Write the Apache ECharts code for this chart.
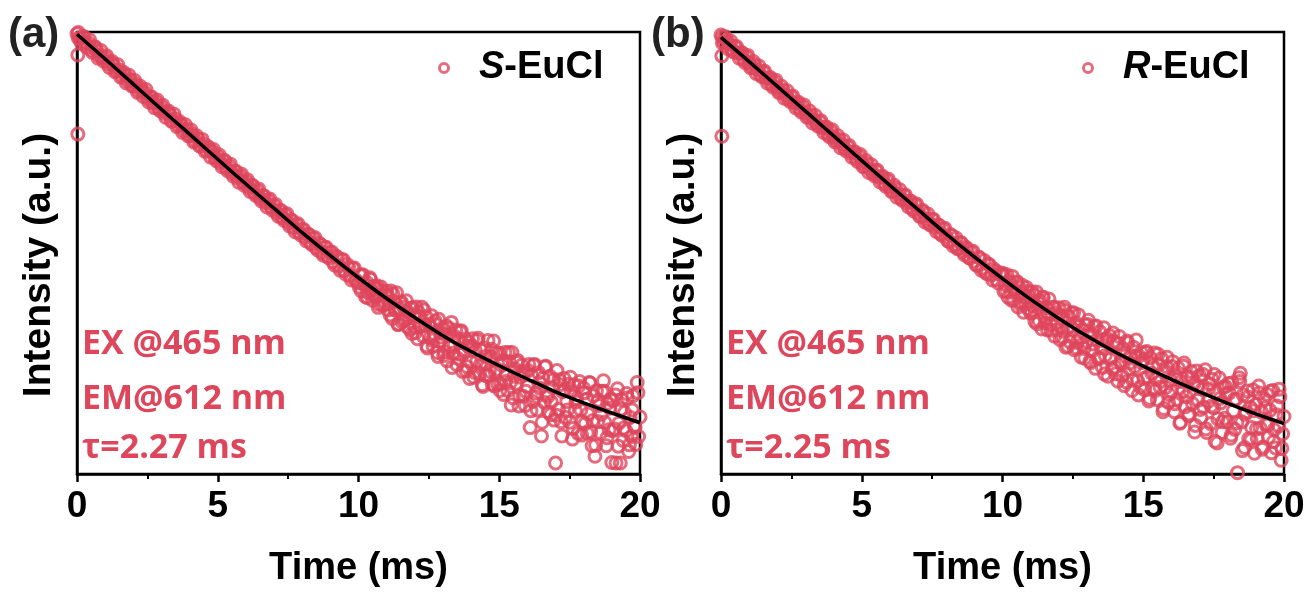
<!DOCTYPE html>
<html>
<head>
<meta charset="utf-8">
<script src="https://cdn.jsdelivr.net/npm/echarts@6/dist/echarts.min.js"></script>
<style>
html,body{margin:0;padding:0;background:#fff;}
#chart{width:1309px;height:594px;}
</style>
</head>
<body>
<div id="chart"></div>
<script>
// ---- Data (y in arbitrary units, 0 = bottom of plot, 100 = top) ----
const seriesNames = ['S-EuCl', 'R-EuCl'];
const panelLabels = ['(a)', '(b)'];
const annotA = ['EX @465 nm', 'EM@612 nm', 'τ=2.27 ms'];
const annotB = ['EX @465 nm', 'EM@612 nm', 'τ=2.25 ms'];
const xTicks = [0, 5, 10, 15, 20];

// shared sampling times (ms)
const times = [
0,0.1,0.2,0.3,0.4,0.5,0.6,0.7,0.8,0.9,
1,1.1,1.2,1.3,1.4,1.5,1.6,1.7,1.8,1.9,
2,2.1,2.2,2.3,2.4,2.5,2.6,2.7,2.8,2.9,
3,3.1,3.2,3.3,3.4,3.5,3.6,3.7,3.8,3.9,
4,4.1,4.2,4.3,4.4,4.5,4.6,4.7,4.8,4.9,
5,5.1,5.2,5.3,5.4,5.5,5.6,5.7,5.8,5.9,
6,6.1,6.2,6.3,6.4,6.5,6.6,6.7,6.8,6.9,
7,7.1,7.2,7.3,7.4,7.5,7.6,7.7,7.8,7.9,
8,8.1,8.2,8.3,8.4,8.5,8.6,8.7,8.8,8.9,
9,9.1,9.2,9.3,9.4,9.5,9.6,9.7,9.8,9.9,
10,10.05,10.1,10.15,10.2,10.25,10.3,10.35,10.4,10.45,10.5,10.55,10.6,10.65,10.7,10.75,10.8,10.85,10.9,10.95,
11,11.05,11.1,11.15,11.2,11.25,11.3,11.35,11.4,11.45,11.5,11.55,11.6,11.65,11.7,11.75,11.8,11.85,11.9,11.95,
12,12.05,12.1,12.15,12.2,12.25,12.3,12.35,12.4,12.45,12.5,12.55,12.6,12.65,12.7,12.75,12.8,12.85,12.9,12.95,
13,13.05,13.1,13.15,13.2,13.25,13.3,13.35,13.4,13.45,13.5,13.55,13.6,13.65,13.7,13.75,13.8,13.85,13.9,13.95,
14,14.05,14.1,14.15,14.2,14.25,14.3,14.35,14.4,14.45,14.5,14.55,14.6,14.65,14.7,14.75,14.8,14.85,14.9,14.95,
15,15.05,15.1,15.15,15.2,15.25,15.3,15.35,15.4,15.45,15.5,15.55,15.6,15.65,15.7,15.75,15.8,15.85,15.9,15.95,
16,16.05,16.1,16.15,16.2,16.25,16.3,16.35,16.4,16.45,16.5,16.55,16.6,16.65,16.7,16.75,16.8,16.85,16.9,16.95,
17,17.05,17.1,17.15,17.2,17.25,17.3,17.35,17.4,17.45,17.5,17.55,17.6,17.65,17.7,17.75,17.8,17.85,17.9,17.95,
18,18.05,18.1,18.15,18.2,18.25,18.3,18.35,18.4,18.45,18.5,18.55,18.6,18.65,18.7,18.75,18.8,18.85,18.9,18.95,
19,19.05,19.1,19.15,19.2,19.25,19.3,19.35,19.4,19.45,19.5,19.55,19.6,19.65,19.7,19.75,19.8,19.85,19.9,19.95,
20
];
// in-between sampling times of the dense early part (ms)
const timesHalf = [
0.05,0.15,0.25,0.35,0.45,0.55,0.65,0.75,0.85,0.95,
1.05,1.15,1.25,1.35,1.45,1.55,1.65,1.75,1.85,1.95,
2.05,2.15,2.25,2.35,2.45,2.55,2.65,2.75,2.85,2.95,
3.05,3.15,3.25,3.35,3.45,3.55,3.65,3.75,3.85,3.95,
4.05,4.15,4.25,4.35,4.45,4.55,4.65,4.75,4.85,4.95,
5.05,5.15,5.25,5.35,5.45,5.55,5.65,5.75,5.85,5.95,
6.05,6.15,6.25,6.35,6.45,6.55,6.65,6.75,6.85,6.95,
7.05,7.15,7.25,7.35,7.45,7.55,7.65,7.75,7.85,7.95,
8.05,8.15,8.25,8.35,8.45,8.55,8.65,8.75,8.85,8.95,
9.05,9.15,9.25,9.35,9.45,9.55,9.65,9.75,9.85,9.95
];
// extra sampling times of the noisy tail (ms)
const timesLate = [
10.025,10.125,10.225,10.325,10.425,10.525,10.625,10.725,10.825,10.925,
11.025,11.125,11.225,11.325,11.425,11.525,11.625,11.725,11.825,11.925,
12.025,12.125,12.225,12.325,12.425,12.525,12.625,12.725,12.825,12.925,
13.025,13.125,13.225,13.325,13.425,13.525,13.625,13.725,13.825,13.925,
14.025,14.125,14.225,14.325,14.425,14.525,14.625,14.725,14.825,14.925,
15.025,15.125,15.225,15.325,15.425,15.525,15.625,15.725,15.825,15.925,
16.025,16.125,16.225,16.325,16.425,16.525,16.625,16.725,16.825,16.925,
17.025,17.125,17.225,17.325,17.425,17.525,17.625,17.725,17.825,17.925,
18.025,18.125,18.225,18.325,18.425,18.525,18.625,18.725,18.825,18.925,
19.025,19.125,19.225,19.325,19.425,19.525,19.625,19.725,19.825,19.925
];

// panel (a) S-EuCl measured decay
const intensityA = [
99.6,98.5,98.9,97.4,97.5,96.0,96.6,95.9,94.6,94.2,
94.3,92.8,93.1,92.5,91.2,91.4,90.1,90.4,89.0,89.2,
87.8,88.1,86.7,86.9,86.3,85.0,85.3,83.9,84.2,82.7,
83.0,81.6,81.9,81.3,79.9,80.3,78.9,79.1,77.7,78.0,
76.6,76.9,75.4,75.8,74.3,74.7,73.2,73.6,72.9,71.5,
71.8,70.4,70.9,69.3,69.6,68.1,68.5,67.0,67.4,66.0,
66.2,64.8,65.3,63.6,64.1,62.5,63.0,61.4,61.9,60.3,
60.7,59.1,59.6,58.0,58.6,56.9,57.5,55.7,56.4,54.6,
55.3,53.5,54.3,52.3,53.3,51.2,52.2,50.1,51.3,49.2,
50.1,48.0,49.3,47.0,48.5,46.0,47.4,44.8,46.5,43.9,
43.2,45.0,41.4,45.1,42.9,40.1,43.3,41.0,44.4,41.4,39.3,42.4,40.1,42.6,37.7,40.5,42.3,38.2,39.2,40.8,
41.3,37.1,38.6,41.4,35.2,39.0,37.1,41.0,33.8,37.6,38.7,34.4,37.8,35.0,39.2,33.2,35.8,37.5,31.8,35.8,
33.3,37.8,30.6,35.7,33.4,37.7,31.2,33.7,35.6,28.5,33.9,30.9,35.8,28.9,31.7,33.8,27.5,35.0,30.0,31.9,
33.1,27.6,31.5,25.6,33.0,29.0,34.3,27.3,29.3,32.6,24.7,30.5,27.1,32.4,23.2,27.5,30.6,24.3,28.9,21.6,
25.3,30.6,21.9,27.9,25.5,30.7,22.6,28.1,20.2,28.5,25.2,22.2,30.2,23.3,26.5,20.3,30.1,23.2,27.4,20.3,
27.3,20.5,24.6,18.0,27.5,22.5,18.9,25.4,20.7,27.5,17.2,23.8,20.5,25.7,15.4,21.9,24.6,17.6,23.1,18.7,
19.8,24.8,10.5,22.3,16.4,24.8,18.3,14.5,22.9,19.4,8.6,21.6,16.2,24.4,18.0,14.1,22.1,16.3,19.5,12.2,
2.5,23.4,14.6,20.2,11.8,18.6,21.6,12.8,16.4,20.3,11.7,18.6,7.9,20.2,14.3,17.0,9.2,20.9,14.5,11.9,
19.4,11.4,16.9,13.6,20.7,9.5,6.4,17.7,4.0,18.8,11.9,15.5,9.3,18.7,21.1,11.7,6.4,16.0,10.0,16.9,
2.6,16.6,10.2,2.5,19.3,11.5,2.5,16.8,7.6,13.9,9.8,17.2,5.1,12.8,8.5,17.7,10.8,6.7,20.7,8.5,
12.9
];
const intensityAHalf = [
98.6,97.6,98.9,96.6,98.2,95.4,96.6,94.1,95.8,93.4,
94.6,92.0,93.3,91.0,92.6,89.8,90.9,88.5,90.2,87.8,
89.0,86.3,87.7,85.4,87.0,84.2,85.3,82.9,84.6,82.2,
83.4,80.7,82.1,79.8,81.4,78.6,79.7,77.3,79.0,76.5,
77.8,75.1,76.5,74.2,75.7,73.0,74.1,71.7,73.4,70.9,
72.2,69.5,70.9,68.6,70.1,67.4,68.5,66.0,67.8,65.3,
66.6,63.9,65.2,63.0,64.5,61.8,62.9,60.4,62.2,59.7,
61.0,58.3,59.6,57.4,58.9,56.1,57.3,54.8,56.6,54.1,
55.3,52.7,54.1,51.9,53.5,50.7,51.9,49.5,51.3,48.9,
50.2,47.3,49.0,46.1,48.5,45.2,46.8,43.9,46.6,43.5
];
const intensityALate = [
42.3,44.9,42.9,39.9,44.0,40.6,42.0,38.4,41.5,38.4,
40.4,36.0,40.7,37.2,33.9,38.9,34.7,36.8,32.7,37.6,
32.0,36.6,33.5,37.1,29.0,33.6,30.3,34.6,26.6,31.0,
26.8,33.5,28.7,24.1,31.1,26.2,32.1,28.0,23.3,29.8,
29.0,23.0,30.2,24.7,19.8,26.6,22.3,28.2,19.9,23.7,
18.9,25.7,20.9,27.5,15.6,22.1,25.3,17.7,22.5,15.5,
23.4,14.3,24.6,17.5,20.7,11.7,24.2,17.5,13.4,21.4,
13.3,21.3,8.6,19.0,14.5,21.9,10.3,16.3,19.9,8.8,
18.4,9.3,20.6,12.1,6.5,16.7,13.5,18.7,8.2,14.9,
9.8,17.9,6.3,14.7,10.4,18.2,6.6,14.5,10.6,18.4
];
const extraA = [[0.03, 94.8], [0.03, 76.9], [0.05, 99.9]];

// panel (b) R-EuCl measured decay
const intensityB = [
99.3,97.8,98.2,97.3,95.9,96.6,95.2,95.3,93.8,94.4,
93.0,92.1,92.6,91.4,90.3,90.9,89.5,89.6,88.1,88.7,
87.3,86.5,86.9,85.7,84.8,85.3,83.9,84.0,82.5,83.1,
81.7,80.9,81.3,80.1,79.2,79.7,78.3,78.4,76.9,77.5,
76.1,75.3,75.7,74.5,73.6,74.1,72.7,72.8,71.3,71.9,
70.5,69.6,70.2,68.9,68.0,68.6,67.1,67.3,65.7,66.4,
64.8,64.0,64.7,63.3,62.3,63.0,61.4,61.7,60.0,60.9,
59.1,58.3,59.2,57.6,56.6,57.6,55.8,56.4,54.3,55.4,
53.6,52.6,53.9,52.0,51.0,52.4,50.3,51.3,49.0,50.2,
48.2,47.2,48.8,46.6,45.6,47.5,45.0,46.3,43.9,45.2,
45.1,41.3,42.9,45.1,40.0,43.2,41.2,44.7,39.4,41.6,43.2,37.8,42.1,38.9,42.7,36.6,40.1,42.2,37.4,40.1,
36.4,41.2,38.0,34.5,41.2,37.8,34.6,39.2,32.8,40.0,35.5,37.6,32.6,39.6,33.9,36.1,37.7,31.2,36.5,32.6,
37.6,30.4,35.4,32.3,37.7,28.7,33.0,35.7,29.9,36.4,32.7,28.1,34.2,29.8,36.0,30.8,26.4,32.6,28.4,33.7,
30.0,34.8,25.5,31.7,27.9,33.4,23.9,30.3,26.3,32.2,28.6,24.1,33.1,26.8,30.2,22.1,31.3,26.4,23.8,30.0,
24.2,29.5,21.0,31.1,25.5,22.2,28.3,26.7,20.8,29.7,23.8,26.8,18.9,28.7,24.3,30.3,21.1,26.7,19.7,25.2,
25.9,19.1,27.5,22.0,16.5,26.3,22.8,19.4,27.4,21.5,16.8,24.7,19.6,26.1,14.1,23.0,19.6,26.4,16.2,21.2,
18.6,25.4,14.1,22.3,16.9,23.9,11.5,20.9,18.6,25.1,15.2,22.0,13.2,18.7,23.2,15.9,20.3,11.0,23.3,16.7,
22.2,12.7,19.2,15.1,23.6,9.4,16.4,20.4,11.4,21.4,15.0,7.4,18.5,12.5,21.7,16.1,9.4,19.7,12.6,18.1,
11.8,18.3,8.1,20.6,14.3,10.1,16.9,0.3,21.8,22.8,11.8,17.9,6.0,14.0,18.8,8.0,15.1,10.5,19.0,4.7,
15.7,8.1,19.9,10.4,14.0,6.1,16.9,11.2,18.0,8.3,14.4,4.8,18.9,10.0,5.9,15.4,10.9,17.5,3.1,9.1,
13.0
];
const intensityBHalf = [
97.5,98.9,96.2,97.9,95.5,96.7,94.1,95.3,93.1,94.7,
91.9,93.3,90.6,92.3,89.9,91.1,88.5,89.7,87.5,89.1,
86.3,87.7,85.0,86.7,84.3,85.5,82.9,84.1,81.9,83.5,
80.7,82.1,79.4,81.1,78.7,79.9,77.3,78.5,76.3,77.9,
75.1,76.5,73.8,75.5,73.1,74.3,71.7,72.9,70.7,72.3,
69.5,70.9,68.2,69.9,67.5,68.7,66.1,67.3,65.1,66.7,
63.9,65.3,62.6,64.3,61.9,63.1,60.5,61.7,59.5,61.1,
58.3,59.7,57.0,58.8,56.3,57.6,54.9,56.2,54.0,55.6,
52.8,54.2,51.6,53.4,51.0,52.2,49.6,50.9,48.8,50.4,
47.4,49.1,46.1,48.3,45.3,47.2,43.9,45.9,43.2,45.5
];
const intensityBLate = [
45.3,41.4,43.7,39.3,41.3,43.5,38.5,40.9,38.4,41.3,
36.9,40.5,34.0,38.5,39.9,34.2,36.2,32.5,37.7,34.1,
36.1,30.9,37.0,28.9,33.3,36.5,28.5,33.5,29.3,26.2,
33.8,25.2,29.4,33.5,26.1,30.2,22.6,30.6,25.9,31.9,
22.7,29.5,24.9,20.0,30.1,25.1,21.2,26.6,17.9,27.5,
21.6,27.7,17.1,24.3,18.9,27.1,21.0,14.8,24.3,18.0,
24.3,15.9,21.5,11.7,24.4,17.5,13.6,21.8,9.5,19.9,
14.6,22.5,10.2,19.3,15.4,22.5,7.0,17.1,11.8,19.8,
20.5,8.8,16.8,11.6,20.9,5.3,13.5,17.4,7.7,14.3,
10.2,18.3,5.6,15.0,11.1,18.7,7.3,13.4,19.2,5.8
];
const extraB = [[0.03, 94.6], [0.03, 76.4], [0.05, 98.9]];

// fitted curves
const fitTimes = [0,1,2,3,4,5,6,7,8,9,10,11,12,13,14,15,16,17,18,19,20];
const fitA = [99.5,93.9,88.2,82.5,76.9,71.2,65.6,60.1,54.6,49.4,44.4,39.7,35.4,31.3,27.7,24.5,21.5,18.6,16.1,13.8,11.6];
const fitB = [98.8,93.3,87.7,82.1,76.5,70.9,65.3,59.8,54.3,49.1,44.2,39.5,35.2,31.2,27.6,24.4,21.4,18.6,16.0,13.6,11.4];

// ---- Chart ----
const RED = '#de465c';
const FONT = '"Liberation Sans", Arial, sans-serif';
const ANNFONT = '"Open Sans", "Noto Sans", sans-serif';

function pairs(xs, ys) { return xs.map((x, i) => [x, ys[i]]); }

const grids = [
  {left: 77, top: 32, width: 563, height: 442},
  {left: 721, top: 32, width: 563, height: 442}
];

function makeX(i) {
  return {
    gridIndex: i, type: 'value', min: xTicks[0], max: xTicks[xTicks.length - 1], interval: 5,
    name: 'Time (ms)', nameLocation: 'middle', nameGap: 76,
    nameTextStyle: {fontSize: 38, fontWeight: 'bold', color: '#000', fontFamily: FONT},
    axisLine: {show: true, onZero: false, lineStyle: {color: '#000', width: 2.5}},
    axisTick: {show: true, inside: false, length: 8, lineStyle: {color: '#000', width: 2.5}},
    minorTick: {show: true, splitNumber: 2, length: 5, lineStyle: {color: '#000', width: 2}},
    axisLabel: {fontSize: 37, fontWeight: 'bold', color: '#000', fontFamily: FONT, margin: 14},
    splitLine: {show: false}
  };
}
function makeY(i) {
  return {
    gridIndex: i, type: 'value', min: 0, max: 100,
    name: 'Intensity (a.u.)', nameLocation: 'middle', nameGap: 18,
    nameTextStyle: {fontSize: 39, fontWeight: 'bold', color: '#000', fontFamily: FONT, padding: [0, 24, 0, 0]},
    axisLine: {show: true, lineStyle: {color: '#000', width: 2.5}},
    axisTick: {show: false}, axisLabel: {show: false}, splitLine: {show: false}
  };
}

function legendFor(i, left) {
  return {
    data: [{name: seriesNames[i], icon: 'circle', itemStyle: {color: 'rgba(255,255,255,0)', borderColor: RED, borderWidth: 3}}],
    left: left, top: 44, itemWidth: 60, itemHeight: 9,
    formatter: n => '{i|' + n.charAt(0) + '}' + n.slice(1),
    textStyle: {fontSize: 38, fontWeight: 'bold', color: '#000', fontFamily: FONT,
      rich: {i: {fontSize: 38, fontWeight: 'bold', fontStyle: 'italic', color: '#000', fontFamily: FONT}}}
  };
}

function scatter(i, data) {
  return {
    type: 'scatter', name: seriesNames[i], xAxisIndex: i, yAxisIndex: i,
    data: data, symbol: 'circle', symbolSize: 12,
    itemStyle: {color: 'rgba(255,255,255,0)', borderColor: RED, borderWidth: 3},
    z: 2
  };
}
function fitLine(i, ys) {
  return {
    type: 'line', name: 'fit' + i, xAxisIndex: i, yAxisIndex: i,
    data: pairs(fitTimes, ys), smooth: 0.3, symbol: 'none',
    lineStyle: {color: '#000', width: 3.5}, z: 3
  };
}

function annText(x, y, t) {
  return {type: 'text', left: x, top: y, style: {text: t, fill: RED, font: 'bold 34px ' + ANNFONT}};
}
function panelText(x, y, t) {
  return {type: 'text', left: x, top: y, style: {text: t, fill: '#222', font: 'bold 42px ' + FONT}};
}

const option = {
  animation: false,
  backgroundColor: '#fff',
  grid: grids.map(g => Object.assign({show: true, borderColor: '#000', borderWidth: 2.5, backgroundColor: 'transparent'}, g)),
  xAxis: [makeX(0), makeX(1)],
  yAxis: [makeY(0), makeY(1)],
  legend: [legendFor(0, 433), legendFor(1, 1077)],
  series: [
    scatter(0, pairs(times, intensityA).concat(pairs(timesHalf, intensityAHalf), pairs(timesLate, intensityALate), extraA)),
    fitLine(0, fitA),
    scatter(1, pairs(times, intensityB).concat(pairs(timesHalf, intensityBHalf), pairs(timesLate, intensityBLate), extraB)),
    fitLine(1, fitB)
  ],
  graphic: [
    panelText(8, 14, panelLabels[0]),
    panelText(651, 14, panelLabels[1]),
    annText(82, 327, annotA[0]), annText(82, 382, annotA[1]), annText(82, 431, annotA[2]),
    annText(726, 327, annotB[0]), annText(726, 382, annotB[1]), annText(726, 431, annotB[2])
  ]
};

const chart = echarts.init(document.getElementById('chart'), null, {renderer: 'canvas'});
chart.setOption(option);
</script>
</body>
</html>
